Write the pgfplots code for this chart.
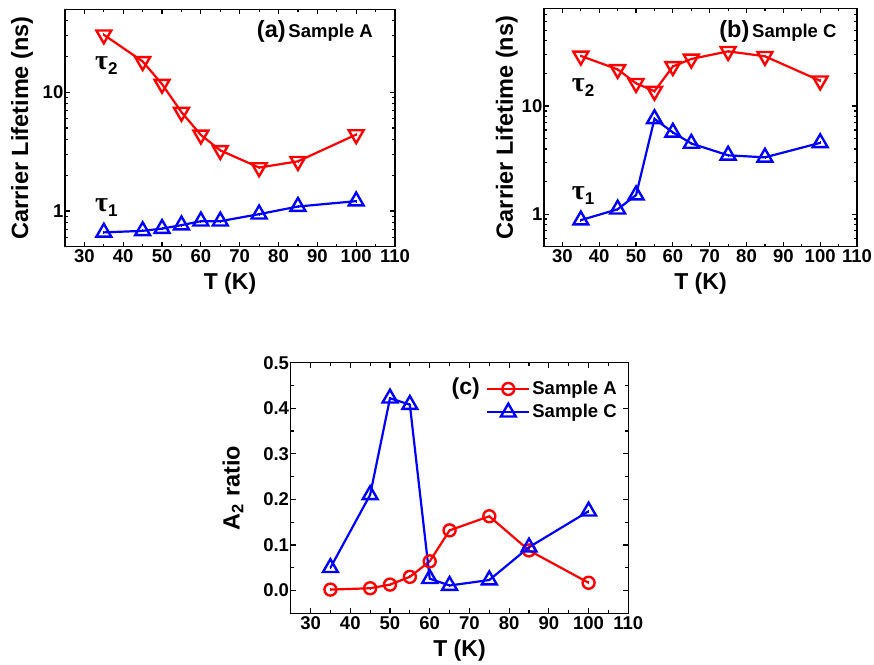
\documentclass[border=0pt]{standalone}
\usepackage{fontspec}
\setmainfont{Liberation Sans}
\newfontfamily\tauf{Liberation Serif}
\usepackage{pgfplots}
\pgfplotsset{compat=1.18}

\pgfplotstableread{
T taua2 taua1 tauc2 tauc1 aA aC
35 30.5 0.66 29.0 0.88 0.002 0.050
45 18.2 0.68 21.8 1.11 0.005 0.210
50 11.7 0.71 16.2 1.50 0.013 0.422
55 6.8 0.76 13.7 7.60 0.030 0.408
60 4.37 0.82 23.2 5.70 0.064 0.026
65 3.24 0.82 27.2 4.50 0.132 0.011
75 2.32 0.94 32.0 3.50 0.163 0.023
85 2.62 1.09 28.8 3.35 0.088 0.095
100 4.40 1.21 17.1 4.56 0.017 0.174
}\data

\pgfplotsset{
  myaxis/.style={
    scale only axis,
    xmin=25, xmax=110,
    xtick={30,40,...,110},
    minor x tick num=1,
    tick pos=both,
    tick align=inside,
    major tick length=5pt, minor tick length=3pt,
    axis line style={line width=1.4pt},
    tick style={black, line width=1.2pt},
    /pgf/number format/assume math mode=true,
    tick label style={font=\fontsize{18.5}{18.5}\selectfont\bfseries},
    yticklabel style={inner xsep=1.5pt},
    xticklabel style={inner ysep=3pt},
    xlabel={T (K)},
    every axis x label/.style={at={(axis description cs:0.5,0)}, anchor=center, yshift=-37pt,
      font=\fontsize{23}{23}\selectfont\bfseries},
  },
  myylab/.style={every axis y label/.style={at={(axis description cs:#1,0.5)}, rotate=90, anchor=center,
      font=\fontsize{23.5}{23.5}\selectfont\bfseries}},
  mydowntri/.style={red, line width=2.2pt, mark=triangle, mark size=8.6pt,
    mark options={rotate=180, solid, line width=2.4pt, fill=white}},
  myuptri/.style={blue, line width=2.2pt, mark=triangle, mark size=8.6pt,
    mark options={solid, line width=2.4pt, fill=white}},
  mycirc/.style={red, line width=2.2pt, mark=o, mark size=6pt,
    mark options={solid, line width=2.4pt, fill=white}},
  mydash/.style={only marks, mark=|, mark size=1.4pt, line width=0.8pt, forget plot},
}

\begin{document}
\begin{tikzpicture}
\useasboundingbox (0,0) rectangle (874pt,664pt);

% (a)
\begin{axis}[myaxis, ymode=log, at={(65pt,417.3pt)}, width=330pt, height=237.4pt,
  ymin=0.5, ymax=50,
  ytick={1,10}, yticklabels={1,10},
  minor ytick={0.5,0.6,0.7,0.8,0.9,2,3,4,5,6,7,8,9,20,30,40,50},
  ylabel={Carrier Lifetime (ns)}, myylab=-0.13]
\addplot[mydowntri] table[x=T, y=taua2] {\data};
\addplot[mydash, red] table[x=T, y=taua2] {\data};
\addplot[myuptri] table[x=T, y=taua1] {\data};
\addplot[mydash, blue] table[x=T, y=taua1] {\data};
\end{axis}

% (b)
\begin{axis}[myaxis, ymode=log, at={(544pt,417.3pt)}, width=313pt, height=238.4pt,
  ymin=0.5, ymax=80,
  ytick={1,10}, yticklabels={1,10},
  minor ytick={0.5,0.6,0.7,0.8,0.9,2,3,4,5,6,7,8,9,20,30,40,50,60,70,80},
  ylabel={Carrier Lifetime (ns)}, myylab=-0.119]
\addplot[mydowntri] table[x=T, y=tauc2] {\data};
\addplot[mydash, red] table[x=T, y=tauc2] {\data};
\addplot[myuptri] table[x=T, y=tauc1] {\data};
\addplot[mydash, blue] table[x=T, y=tauc1] {\data};
\end{axis}

% (c)
\begin{axis}[myaxis, at={(290.7pt,50.7pt)}, width=337.6pt, height=250.6pt,
  ymin=-0.05, ymax=0.5,
  ytick={0,0.1,0.2,0.3,0.4,0.5},
  yticklabels={0.0,0.1,0.2,0.3,0.4,0.5},
  minor y tick num=1,
  ylabel={A\textsubscript{2} ratio}, myylab=-0.171,
  legend style={at={(axis description cs:0.5785,0.939)}, anchor=north west,
    draw=none, fill=none, inner sep=0pt, row sep=1.8pt,
    font=\fontsize{18.5}{18.5}\selectfont\bfseries,
    nodes={inner sep=2pt, text height=14pt, text depth=3.5pt}},
  legend cell align=left,
  legend image code/.code={\draw[mark repeat=2,mark phase=2] plot coordinates {(0pt,0pt) (21pt,0pt) (42pt,0pt)};},
]
\addplot[mycirc] table[x=T, y=aA] {\data};
\addlegendentry{Sample A}
\addplot[mydash, red] table[x=T, y=aA] {\data};
\addplot[myuptri] table[x=T, y=aC] {\data};
\addlegendentry{Sample C}
\addplot[mydash, blue] table[x=T, y=aC] {\data};
\end{axis}

% annotations
\node[anchor=base east, inner sep=0pt, font=\bfseries] at (373pt,626.7pt)
  {{\fontsize{23.5}{23.5}\selectfont (a)} {\fontsize{18.5}{18.5}\selectfont Sample A}};
\node[anchor=base east, inner sep=0pt, font=\bfseries] at (836.7pt,626.7pt)
  {{\fontsize{23.5}{23.5}\selectfont (b)} {\fontsize{18.5}{18.5}\selectfont Sample C}};
\node[anchor=base east, inner sep=0pt, font=\bfseries\fontsize{23}{23}\selectfont] at (480pt,269pt) {(c)};

\node[anchor=base west, inner sep=0pt] at (95pt,594pt)
  {{\tauf\bfseries\fontsize{28}{28}\selectfont τ}\raisebox{-5pt}{\bfseries\fontsize{17}{17}\selectfont 2}};
\node[anchor=base west, inner sep=0pt] at (95pt,452.3pt)
  {{\tauf\bfseries\fontsize{28}{28}\selectfont τ}\raisebox{-5pt}{\bfseries\fontsize{17}{17}\selectfont 1}};
\node[anchor=base west, inner sep=0pt] at (571.7pt,572.3pt)
  {{\tauf\bfseries\fontsize{28}{28}\selectfont τ}\raisebox{-5pt}{\bfseries\fontsize{17}{17}\selectfont 2}};
\node[anchor=base west, inner sep=0pt] at (571.7pt,464pt)
  {{\tauf\bfseries\fontsize{28}{28}\selectfont τ}\raisebox{-5pt}{\bfseries\fontsize{17}{17}\selectfont 1}};
\end{tikzpicture}
\end{document}
